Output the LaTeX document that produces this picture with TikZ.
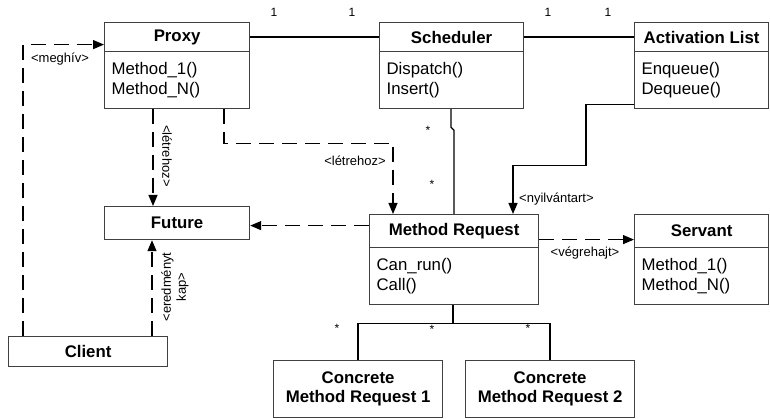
\documentclass[tikz,border=0pt]{standalone}
\usepackage{fontspec}
\setmainfont{Liberation Sans}
\usetikzlibrary{arrows.meta}
\begin{document}
\begin{tikzpicture}[x=1pt,y=-1pt,
  box/.style={draw=black!75, line width=1.2pt, inner sep=0pt, anchor=north west},
  hdr/.style={box, font=\bfseries\fontsize{16.8}{19}\selectfont, align=center},
  body/.style={box, font=\fontsize{16.8}{20}\selectfont, align=left, inner xsep=7pt, inner ysep=0pt},
  lbl/.style={font=\fontsize{13}{15}\selectfont, inner sep=0pt},
  mult/.style={font=\fontsize{12}{13}\selectfont, inner sep=0pt},
  dep/.style={dash pattern=on 15pt off 8pt, line width=1.2pt},
  assoc/.style={line width=1.3pt},
  tip/.style={-{Triangle[length=11pt,width=9pt]}}]
\useasboundingbox (0,0) rectangle (770,419);

% classes: header + operations compartment
\node[hdr, minimum width=145pt, minimum height=29pt] (proxyH) at (104,22) {Proxy};
\node[body, text width=131pt, minimum height=57pt] (proxyB) at (104,51) {Method\_1()\\Method\_N()};

\node[hdr, minimum width=144pt, minimum height=29pt] (schedH) at (379,22) {Scheduler};
\node[body, text width=130pt, minimum height=57pt] (schedB) at (379,51) {Dispatch()\\Insert()};

\node[hdr, minimum width=134pt, minimum height=29pt] (alH) at (634,22) {Activation List};
\node[body, text width=120pt, minimum height=57pt] (alB) at (634,51) {Enqueue()\\Dequeue()};

\node[hdr, minimum width=169pt, minimum height=33pt] (mrH) at (369,214) {Method Request};
\node[body, text width=155pt, minimum height=57pt] (mrB) at (369,247) {Can\_run()\\Call()};

\node[hdr, minimum width=134pt, minimum height=33pt] (servH) at (634,214) {Servant};
\node[body, text width=120pt, minimum height=57pt] (servB) at (634,247) {Method\_1()\\Method\_N()};

\node[hdr, minimum width=145pt, minimum height=33pt] (future) at (104,206) {Future};
\node[hdr, minimum width=159pt, minimum height=30pt] (client) at (8,336) {Client};

\node[hdr, minimum width=169pt, minimum height=57pt] (cmr1) at (273,360) {Concrete\\Method Request 1};
\node[hdr, minimum width=169pt, minimum height=57pt] (cmr2) at (465,360) {Concrete\\Method Request 2};

% associations
\draw[assoc] (proxyH) -- (schedH);
\draw[assoc] (schedH) -- (alH);
\node[mult] (m1) at (274,12) {1};
\node[mult] (m2) at (352,12) {1};
\node[mult] (m3) at (548,12) {1};
\node[mult] (m4) at (608,12) {1};

\draw[assoc] ([xshift=72pt]schedB.south west) -- ++(0,18) -- ++(3,3) -- ([xshift=85pt]mrH.north west);
\node[mult] (m5) at (428,130) {*};
\node[mult] (m6) at (432,184) {*};

\draw[assoc,tip] ([yshift=-24.5pt]alB.west) -- ++(-48,0) -- ++(0,61) -| ([xshift=144pt]mrH.north west);
\node[lbl, anchor=west] (l5) at (519,199) {<nyilvántart>};

% dependencies
\draw[dep,tip] ([xshift=15pt]client.north west) |- ([yshift=-7.5pt]proxyH.west);
\node[lbl] (l1) at (60,59) {<meghív>};

\draw[dep,tip] ([xshift=49pt]proxyB.south west) -- ([xshift=49pt]future.north west);
\node[lbl, rotate=-90] (l2) at (167,156) {<létrehoz>};

\draw[dep,tip] ([xshift=120pt]proxyB.south west) -- ++(0,34) -| ([xshift=24pt]mrH.north west);
\node[lbl] (l3) at (355,161) {<létrehoz>};

\coordinate (mrL) at ([yshift=5.5pt]mrH.west);
\draw[dep,tip] (mrL) -- (future.east |- mrL);

\coordinate (mrR) at ([yshift=-8.5pt]mrH.east);
\draw[dep,tip] (mrR) -- (servH.west |- mrR);
\node[lbl] (l6) at (585,253) {<végrehajt>};

\draw[dep,tip] ([xshift=144pt]client.north west) -- ([xshift=48pt]future.south west);
\node[lbl, rotate=90, align=center] (l4) at (175,287) {<eredményt\\kap>};

% generalisation tree
\draw[assoc] ([xshift=84pt]mrB.south west) -- ++(0,18) coordinate (hub);
\draw[assoc] (cmr1.north) |- (hub) -| (cmr2.north);
\node[mult] (m7) at (337,328) {*};
\node[mult] (m8) at (432,329) {*};
\node[mult] (m9) at (528,328) {*};
\end{tikzpicture}
\end{document}
